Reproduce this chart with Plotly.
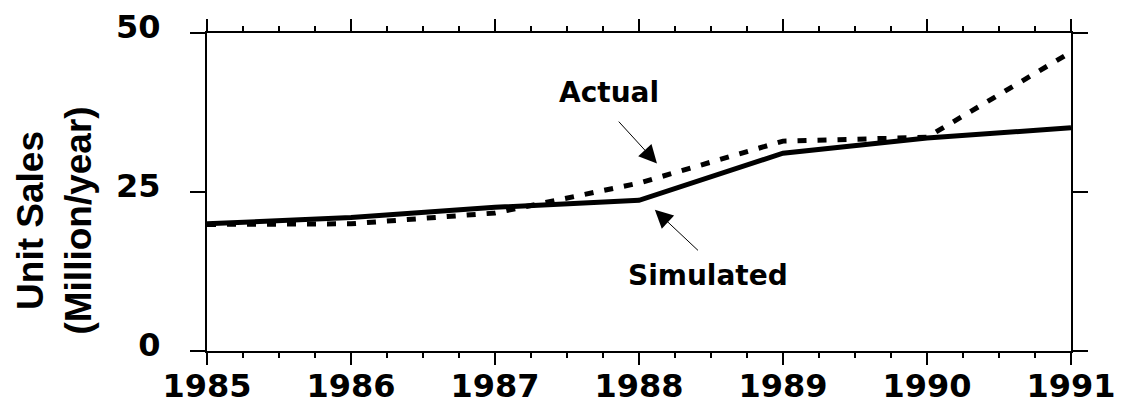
import plotly.graph_objects as go

years = [1985, 1986, 1987, 1988, 1989, 1990, 1991]
simulated = [20.0, 21.0, 22.6, 23.7, 31.1, 33.5, 35.1]
actual = [19.9, 20.0, 21.7, 26.4, 33.0, 33.6, 47.0]
year_labels = ["1985", "1986", "1987", "1988", "1989", "1990", "1991"]
y_ticks = [0, 25, 50]
y_labels = ["0", "25", "50"]

HFONT = "DejaVu Sans"
TFONT = "Liberation Sans, Arial"

fig = go.Figure()
fig.add_trace(go.Scatter(x=years, y=actual, mode="lines", name="Actual",
                         line=dict(color="black", width=5, dash="9px,11px")))
fig.add_trace(go.Scatter(x=years, y=simulated, mode="lines", name="Simulated",
                         line=dict(color="black", width=5)))

fig.update_layout(
    width=1125, height=404,
    margin=dict(l=207, r=54, t=33, b=53, pad=0, autoexpand=False),
    paper_bgcolor="white", plot_bgcolor="white",
    showlegend=False,
    xaxis=dict(range=[1985, 1991], tickvals=years, ticktext=year_labels,
               automargin=False,
               showline=True, linewidth=2, linecolor="black", mirror="ticks",
               ticks="outside", ticklen=12, tickwidth=2, tickcolor="black",
               minor=dict(dtick=0.25, tick0=1985, ticks="outside", ticklen=5,
                          tickwidth=2, tickcolor="black"),
               showgrid=False, zeroline=False, ticklabelstandoff=-6,
               tickfont=dict(family=HFONT, size=32, color="black", weight="bold")),
    yaxis=dict(range=[0, 50], tickvals=y_ticks, ticktext=y_labels,
               automargin=False,
               showline=True, linewidth=2, linecolor="black", mirror="ticks",
               ticks="outside", ticklen=15, tickwidth=2, tickcolor="black",
               showgrid=False, zeroline=False, ticklabelstandoff=23,
               ticklabelshift=-6,
               tickfont=dict(family=HFONT, size=32, color="black", weight="bold")),
)

# y-axis title
fig.add_annotation(text="Unit Sales<br>(Million/year)", xref="paper", yref="paper",
                   x=-0.176, y=0.41, xanchor="center", yanchor="middle",
                   textangle=-90, showarrow=False,
                   font=dict(family=TFONT, size=37, color="black", weight="bold"))

# labels
fig.add_annotation(text="Actual", x=1987.79, y=40.6, xref="x", yref="y",
                   showarrow=False,
                   font=dict(family=HFONT, size=28, color="black", weight="bold"))
fig.add_annotation(text="Simulated", x=1988.476, y=11.8, xref="x", yref="y",
                   showarrow=False,
                   font=dict(family=HFONT, size=28, color="black", weight="bold"))

# arrows
fig.add_annotation(text="", x=1988.125, y=29.5, ax=1987.85, ay=36.3,
                   xref="x", yref="y", axref="x", ayref="y",
                   showarrow=True, arrowhead=2, arrowsize=3.6, arrowwidth=1,
                   arrowcolor="black")
fig.add_annotation(text="", x=1988.11, y=22.2, ax=1988.42, ay=15.6,
                   xref="x", yref="y", axref="x", ayref="y",
                   showarrow=True, arrowhead=2, arrowsize=3.6, arrowwidth=1,
                   arrowcolor="black")

fig.write_html("out.html", config={"displayModeBar": False},
               post_script="document.body.style.margin='0px';document.body.style.overflow='hidden';")
